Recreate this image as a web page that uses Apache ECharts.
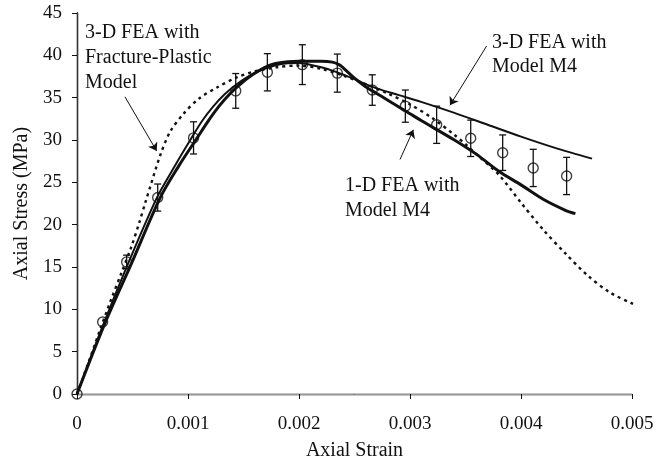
<!DOCTYPE html>
<html><head><meta charset="utf-8">
<script src="https://cdn.jsdelivr.net/npm/echarts@6/dist/echarts.min.js"></script>
<style>html,body{margin:0;padding:0;background:#fff}#c{width:671px;height:466px}</style>
</head><body><div id="c"></div>
<script>
// Experimental data (circles with error bars)
const expStrain = [0, 0.000231, 0.000447, 0.000727, 0.00105, 0.00143, 0.001715, 0.00203, 0.002345, 0.00266, 0.002958, 0.00324, 0.003547, 0.003835, 0.00411, 0.004411];
const expStress = [0, 8.5, 15.6, 23.2, 30.25, 35.8, 38.0, 38.9, 37.9, 35.9, 34.0, 31.8, 30.2, 28.5, 26.7, 25.75];
const expErr    = [0, 0, 0.8, 1.6, 1.9, 2.05, 2.2, 2.35, 2.25, 1.8, 1.9, 2.2, 2.15, 2.1, 2.2, 2.2];

// 3-D FEA with Fracture-Plastic Model (dotted)
const fpStrain = [0, 0.0001, 0.0002, 0.0003, 0.0004, 0.00049, 0.00056, 0.00062, 0.00066, 0.00075, 0.00084, 0.00096, 0.0011, 0.00126, 0.00144, 0.0016, 0.0018, 0.002, 0.0022, 0.0024, 0.0026, 0.0028, 0.003, 0.0032, 0.0034, 0.0035, 0.0036, 0.0038, 0.004, 0.0042, 0.0044, 0.0046, 0.0048, 0.005, 0.00504];
const fpStress = [0, 3.6, 7.3, 10.9, 14.3, 17.4, 20.2, 22.8, 24.5, 28.2, 31.0, 33.1, 34.9, 36.2, 37.4, 38.1, 38.6, 38.8, 38.4, 37.6, 36.6, 35.5, 34.2, 32.6, 30.6, 29.5, 28.3, 25.9, 22.6, 19.4, 16.6, 14.0, 12.0, 10.7, 10.5];

// 3-D FEA with Model M4 (thin solid)
const m3Strain = [0, 0.00024, 0.00046, 0.00072, 0.00088, 0.00103, 0.00113, 0.00123, 0.00133, 0.00143, 0.00153, 0.00163, 0.00173, 0.00183, 0.0019, 0.002, 0.0021, 0.0022, 0.0023, 0.0024, 0.0025, 0.0026, 0.0027, 0.0029, 0.0031, 0.0034, 0.0037, 0.004, 0.0043, 0.00464];
const m3Stress = [0, 8.3, 15.4, 23.2, 26.9, 30.2, 32.3, 34.0, 35.4, 36.5, 37.4, 38.1, 38.6, 38.95, 39.05, 39.1, 38.9, 38.6, 38.2, 37.7, 37.2, 36.6, 36.1, 35.3, 34.5, 33.2, 31.8, 30.4, 29.1, 27.8];

// 1-D FEA with Model M4 (thick solid)
const m1Strain = [0, 0.00025, 0.00049, 0.00075, 0.00092, 0.00108, 0.00118, 0.00128, 0.00138, 0.00148, 0.00158, 0.00168, 0.00178, 0.0019, 0.002, 0.0022, 0.0023, 0.00236, 0.0024, 0.0025, 0.0026, 0.0027, 0.0028, 0.003, 0.0031, 0.0034, 0.0036, 0.0038, 0.004, 0.0042, 0.0044, 0.00449];
const m1Stress = [0, 8.3, 15.4, 23.2, 27.0, 30.2, 32.2, 34.0, 35.5, 36.7, 37.7, 38.5, 39.0, 39.25, 39.3, 39.3, 39.2, 38.9, 38.5, 37.3, 36.3, 35.5, 34.7, 33.1, 32.3, 30.0, 28.3, 26.3, 24.7, 23.0, 21.7, 21.3];

const xTickLabels = ['0', '0.001', '0.002', '0.003', '0.004', '0.005'];
const yTickLabels = ['0', '5', '10', '15', '20', '25', '30', '35', '40', '45'];

// annotation arrows [fromStrain, fromStress, toStrain, toStress]
const arrowFP  = [0.000432, 35.1, 0.000718, 28.7];
const arrow3D  = [0.00369, 41.1, 0.00336, 34.1];
const arrow1D  = [0.00291, 27.7, 0.00303, 31.2];

const zip = (a, b) => a.map((v, i) => [v, b[i]]);
const font = 'Liberation Serif, Times New Roman, serif';

const chart = echarts.init(document.getElementById('c'), null, {renderer: 'canvas'});
const arrowLine = a => [{coord: [a[0], a[1]]}, {coord: [a[2], a[3]]}];

chart.setOption({
  animation: false,
  backgroundColor: '#fff',
  grid: {left: 77, right: 39, top: 13, bottom: 67, containLabel: false},
  xAxis: [{
    type: 'value', min: 0, max: 0.005, interval: 0.001,
    name: 'Axial Strain', nameLocation: 'middle', nameGap: 47,
    nameTextStyle: {fontFamily: font, fontSize: 20, color: '#111'},
    axisLine: {show: true, onZero: false, lineStyle: {color: '#111', width: 1.3}},
    axisTick: {show: true, inside: false, length: 5, lineStyle: {color: '#111'}},
    axisLabel: {fontFamily: font, fontSize: 19, color: '#111', margin: 21,
      formatter: v => xTickLabels[Math.round(v / 0.001)]},
    splitLine: {show: false}
  }, {
    type: 'value', min: 0, max: 0.005, position: 'top',
    axisLine: {show: true, lineStyle: {color: '#999', width: 1}},
    axisTick: {show: false}, axisLabel: {show: false}, splitLine: {show: false}
  }],
  yAxis: [{
    type: 'value', min: 0, max: 45, interval: 5,
    name: 'Axial Stress (MPa)', nameLocation: 'middle', nameGap: 44, nameRotate: 90,
    nameTextStyle: {fontFamily: font, fontSize: 20, color: '#111'},
    axisLine: {show: true, onZero: false, lineStyle: {color: '#111', width: 1.3}},
    axisTick: {show: true, inside: false, length: 5, lineStyle: {color: '#111'}},
    axisLabel: {fontFamily: font, fontSize: 19, color: '#111', margin: 15,
      formatter: v => yTickLabels[Math.round(v / 5)]},
    splitLine: {show: false}
  }, {
    type: 'value', min: 0, max: 45, position: 'right',
    axisLine: {show: true, lineStyle: {color: '#333', width: 1.3}},
    axisTick: {show: false}, axisLabel: {show: false}, splitLine: {show: false}
  }],
  series: [
    {
      type: 'line', data: zip(fpStrain, fpStress), showSymbol: false, smooth: 0.3, clip: false,
      lineStyle: {color: '#111', width: 2.4, type: [3, 4]}
    },
    {
      type: 'line', data: zip(m3Strain, m3Stress), showSymbol: false, smooth: 0.3,
      lineStyle: {color: '#111', width: 2}
    },
    {
      type: 'line', data: zip(m1Strain, m1Stress), showSymbol: false, smooth: 0.3,
      lineStyle: {color: '#111', width: 3}
    },
    {
      type: 'custom',
      data: expStrain.map((x, i) => [x, expStress[i] - expErr[i], expStress[i] + expErr[i]]),
      renderItem: (params, api) => {
        const lo = api.coord([api.value(0), api.value(1)]);
        const hi = api.coord([api.value(0), api.value(2)]);
        if (Math.abs(hi[1] - lo[1]) < 1) return null;
        const w = 3.5;
        const st = {stroke: '#111', lineWidth: 1.3};
        return {type: 'group', children: [
          {type: 'line', shape: {x1: lo[0], y1: lo[1], x2: hi[0], y2: hi[1]}, style: st},
          {type: 'line', shape: {x1: lo[0] - w, y1: lo[1], x2: lo[0] + w, y2: lo[1]}, style: st},
          {type: 'line', shape: {x1: hi[0] - w, y1: hi[1], x2: hi[0] + w, y2: hi[1]}, style: st}
        ]};
      },
      z: 3
    },
    {
      type: 'scatter', data: zip(expStrain, expStress), symbol: 'circle', symbolSize: 10,
      itemStyle: {color: 'rgba(0,0,0,0)', borderColor: '#111', borderWidth: 1.4}, z: 4,
      markLine: {
        silent: true, symbol: ['none', 'arrow'], symbolSize: 8, precision: 6,
        label: {show: false},
        lineStyle: {color: '#111', width: 1, type: 'solid'},
        emphasis: {disabled: true},
        data: [arrowLine(arrowFP), arrowLine(arrow3D), arrowLine(arrow1D)]
      }
    }
  ],
  graphic: [
    {type: 'text', left: 85, top: 20, style: {text: '3-D FEA with\nFracture-Plastic\nModel', font: '20px ' + font, lineHeight: 25, fill: '#111'}},
    {type: 'text', left: 492, top: 31, style: {text: '3-D FEA with\nModel M4', font: '20px ' + font, lineHeight: 24, fill: '#111'}},
    {type: 'text', left: 345, top: 173, style: {text: '1-D FEA with\nModel M4', font: '20px ' + font, lineHeight: 25, fill: '#111'}}
  ]
});
</script></body></html>
